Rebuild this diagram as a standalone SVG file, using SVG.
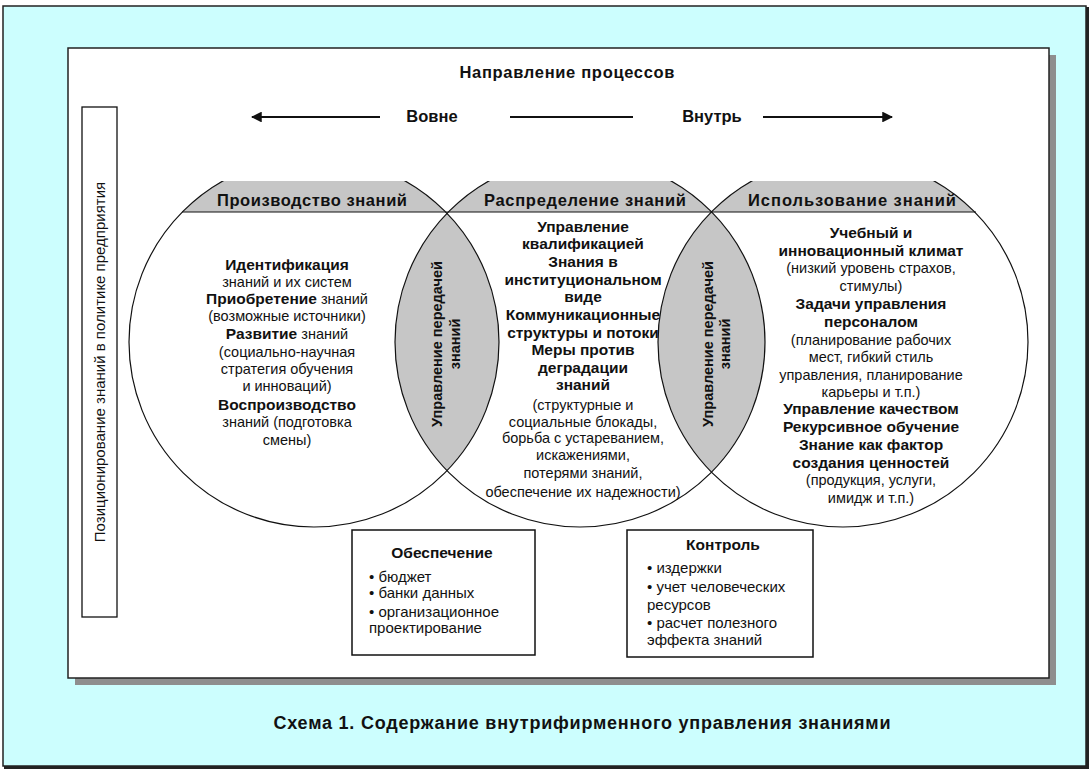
<svg xmlns="http://www.w3.org/2000/svg" width="1091" height="771" viewBox="0 0 1091 771">
<style>
text{font-family:"Liberation Sans",Arial,sans-serif;fill:#111;}
.t{font-size:14.5px;}
.b{font-size:15.5px;font-weight:bold;}
.c{text-anchor:middle;}
.bx{font-size:15px;}
.hd{font-size:16.5px;font-weight:bold;}
.ring{fill:none;stroke:#111;stroke-width:1.2;}
.gray{fill:#c6c6c6;}
.box{fill:#fff;stroke:#111;stroke-width:1.5;}
.ln{stroke:#111;stroke-width:1.8;fill:none;}
</style>
<defs>
<clipPath id="top"><rect x="0" y="181" width="1091" height="400"/></clipPath>
<clipPath id="capband"><rect x="0" y="181" width="1091" height="31"/></clipPath>
<marker id="ah" viewBox="0 0 10 10" refX="9" refY="5" markerWidth="6" markerHeight="6" orient="auto-start-reverse" markerUnits="strokeWidth"><path d="M0,0 L10,5 L0,10 Z" fill="#111"/></marker>
</defs>
<rect x="0" y="0" width="1091" height="771" fill="#fff"/>
<rect x="3" y="6" width="1083" height="760" fill="#ccfefe" stroke="#222" stroke-width="1.5"/>
<path d="M4,767.5 H1087.5 V7" fill="none" stroke="#222" stroke-width="3"/>
<rect x="75" y="55" width="981" height="630" fill="#8e8e8e"/>
<rect x="68" y="48" width="981" height="630" fill="#fff" stroke="#222" stroke-width="1.5"/>

<g id="header">
<text class="hd c" x="567" y="78" textLength="215" lengthAdjust="spacing">Направление процессов</text>
<text class="hd c" x="432" y="122">Вовне</text>
<text class="hd c" x="712" y="122">Внутрь</text>
</g>

<g id="connectors">
<line class="ln" x1="380" y1="117" x2="252" y2="117" marker-end="url(#ah)"/>
<line class="ln" x1="510" y1="117" x2="633" y2="117"/>
<line class="ln" x1="763" y1="117" x2="892" y2="117" marker-end="url(#ah)"/>
</g>

<g id="policy">
<rect x="82" y="107" width="35" height="510" fill="#fff" stroke="#111" stroke-width="1.3"/>
<text class="t c" style="font-size:15px" transform="translate(105,362) rotate(-90)">Позиционирование знаний в политике предприятия</text>
</g>

<g id="circles" clip-path="url(#top)">
<circle cx="314" cy="342" r="185" fill="#fff"/>
<circle cx="580" cy="342" r="185" fill="#fff"/>
<circle cx="843" cy="342" r="185" fill="#fff"/>
<g clip-path="url(#capband)">
<circle class="gray" cx="314" cy="342" r="185"/>
<circle class="gray" cx="580" cy="342" r="185"/>
<circle class="gray" cx="843" cy="342" r="185"/>
</g>
<path class="gray" d="M447,213.4 A185,185 0 0 1 447,470.6 A185,185 0 0 1 447,213.4 Z"/>
<path class="gray" d="M711.5,211.9 A185,185 0 0 1 711.5,472.1 A185,185 0 0 1 711.5,211.9 Z"/>
<circle class="ring" cx="314" cy="342" r="185"/>
<circle class="ring" cx="580" cy="342" r="185"/>
<circle class="ring" cx="843" cy="342" r="185"/>
<line x1="182" y1="212" x2="976" y2="212" stroke="#111" stroke-width="1.2"/>
</g>

<g id="production">
<text class="hd c" x="312" y="206" textLength="190" lengthAdjust="spacing">Производство знаний</text>
<text class="b c" x="287" y="270">Идентификация</text>
<text class="t c" x="287" y="287">знаний и их систем</text>
<text class="t c" x="287" y="304"><tspan font-weight="bold" font-size="15.5">Приобретение</tspan> знаний</text>
<text class="t c" x="287" y="321">(возможные источники)</text>
<text class="t c" x="287" y="339"><tspan font-weight="bold" font-size="15.5">Развитие</tspan> знаний</text>
<text class="t c" x="287" y="357">(социально-научная</text>
<text class="t c" x="287" y="374">стратегия обучения</text>
<text class="t c" x="287" y="391">и инноваций)</text>
<text class="b c" x="287" y="410">Воспроизводство</text>
<text class="t c" x="287" y="427">знаний (подготовка</text>
<text class="t c" x="287" y="445">смены)</text>
</g>

<g id="transfer-left">
<text class="b c" style="font-size:14.5px" transform="translate(442,344) rotate(-90)">Управление передачей</text>
<text class="b c" style="font-size:14.5px" transform="translate(460,344) rotate(-90)">знаний</text>
</g>

<g id="distribution">
<text class="hd c" x="585" y="206" textLength="202" lengthAdjust="spacing">Распределение знаний</text>
<text class="b c" x="583" y="232">Управление</text>
<text class="b c" x="583" y="249">квалификацией</text>
<text class="b c" x="583" y="267">Знания в</text>
<text class="b c" x="583" y="285">институциональном</text>
<text class="b c" x="583" y="302">виде</text>
<text class="b c" x="583" y="320">Коммуникационные</text>
<text class="b c" x="583" y="338">структуры и потоки</text>
<text class="b c" x="583" y="355">Меры против</text>
<text class="b c" x="583" y="373">деградации</text>
<text class="b c" x="583" y="390">знаний</text>
<text class="t c" x="583" y="410">(структурные и</text>
<text class="t c" x="583" y="427">социальные блокады,</text>
<text class="t c" x="583" y="443">борьба с устареванием,</text>
<text class="t c" x="583" y="460">искажениями,</text>
<text class="t c" x="583" y="478">потерями знаний,</text>
<text class="t c" x="583" y="497">обеспечение их надежности)</text>
</g>

<g id="transfer-right">
<text class="b c" style="font-size:14.5px" transform="translate(713,344) rotate(-90)">Управление передачей</text>
<text class="b c" style="font-size:14.5px" transform="translate(730,344) rotate(-90)">знаний</text>
</g>

<g id="usage">
<text class="hd c" x="852" y="206" textLength="208" lengthAdjust="spacing">Использование знаний</text>
<text class="b c" x="871" y="238">Учебный и</text>
<text class="b c" x="871" y="256">инновационный климат</text>
<text class="t c" x="871" y="273">(низкий уровень страхов,</text>
<text class="t c" x="871" y="291">стимулы)</text>
<text class="b c" x="871" y="309">Задачи управления</text>
<text class="b c" x="871" y="327">персоналом</text>
<text class="t c" x="871" y="345">(планирование рабочих</text>
<text class="t c" x="871" y="362">мест, гибкий стиль</text>
<text class="t c" x="871" y="380">управления, планирование</text>
<text class="t c" x="871" y="397">карьеры и т.п.)</text>
<text class="b c" x="871" y="414">Управление качеством</text>
<text class="b c" x="871" y="432">Рекурсивное обучение</text>
<text class="b c" x="871" y="450">Знание как фактор</text>
<text class="b c" x="871" y="468">создания ценностей</text>
<text class="t c" x="871" y="485">(продукция, услуги,</text>
<text class="t c" x="871" y="503">имидж и т.п.)</text>
</g>

<g id="provision">
<rect class="box" x="352" y="530" width="183" height="125"/>
<text class="b c" x="442" y="558">Обеспечение</text>
<text class="bx" x="369" y="582">• бюджет</text>
<text class="bx" x="369" y="598">• банки данных</text>
<text class="bx" x="369" y="617">• организационное</text>
<text class="bx" x="369" y="633">проектирование</text>
</g>

<g id="control">
<rect class="box" x="627" y="530" width="186" height="127"/>
<text class="b c" x="723" y="550">Контроль</text>
<text class="bx" x="647" y="573">• издержки</text>
<text class="bx" x="647" y="592">• учет человеческих</text>
<text class="bx" x="647" y="610">ресурсов</text>
<text class="bx" x="647" y="628">• расчет полезного</text>
<text class="bx" x="647" y="645">эффекта знаний</text>
</g>

<g id="caption">
<text class="b c" style="font-size:18px" x="582" y="729" textLength="617" lengthAdjust="spacing">Схема 1. Содержание внутрифирменного управления знаниями</text>
</g>
</svg>
